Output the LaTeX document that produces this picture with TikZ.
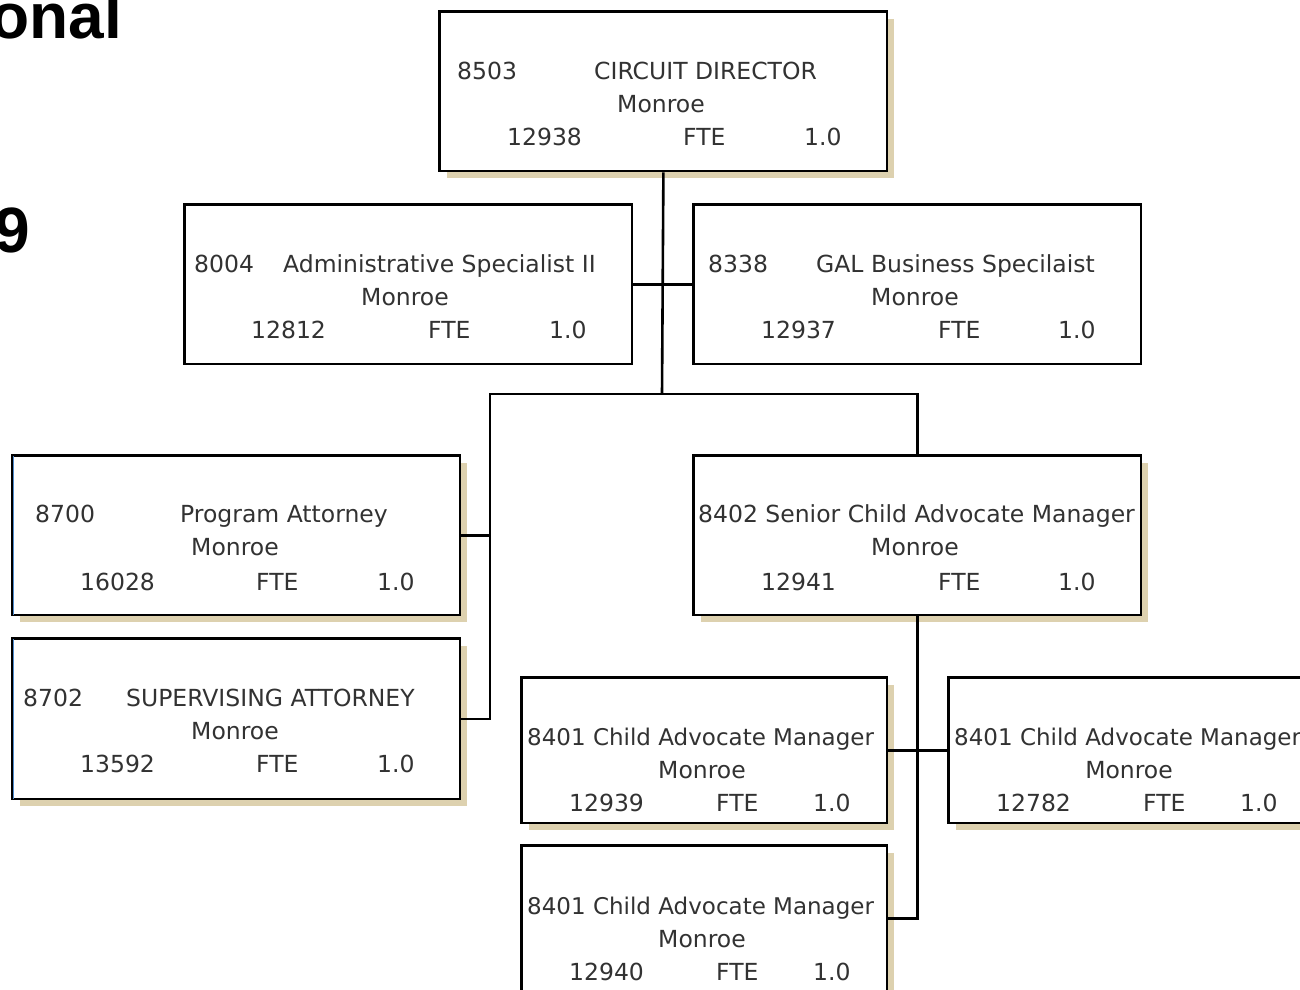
\documentclass[tikz,border=0pt]{standalone}
\usepackage{fontspec}
\setmainfont{DejaVu Sans}
\newfontfamily\titlefont{Liberation Sans}
\usetikzlibrary{shadows}
\definecolor{shadowtan}{RGB}{221,209,175}
\definecolor{edgeblue}{RGB}{80,140,205}
\definecolor{ink}{RGB}{50,50,50}

% one text field of a position card
\newcommand\fld[4]{\node[txt] (#1) at (#2,#3) {#4};}
\newcommand\fldc[4]{\node[txtc] (#1) at (#2,#3) {#4};}
\newcommand\fldn[4]{\node[txt, narrow] (#1) at (#2,#3) {#4};}

\begin{document}
\begin{tikzpicture}[x=1pt,y=-1pt,
  card/.style={rectangle, draw=black, line width=2.8pt, fill=white,
    anchor=north west, inner sep=0pt},
  big/.style={card, minimum width=447.2pt, minimum height=159.2pt},
  small/.style={card, minimum width=365.2pt, minimum height=145.2pt},
  shade/.style={drop shadow={shadow xshift=7pt, shadow yshift=-7pt,
    fill=shadowtan, opacity=1}},
  link/.style={draw=black, line width=2.6pt},
  txt/.style={anchor=base west, inner sep=0pt, text=ink,
    font=\fontsize{23.5}{28}\selectfont},
  narrow/.style={font=\fontsize{23}{28}\selectfont},
  txtc/.style={txt, anchor=base},
  title/.style={anchor=base east, inner sep=0pt, text=black,
    font=\titlefont\bfseries\fontsize{64}{70}\selectfont}]

\useasboundingbox (0,0) rectangle (1300,989);

% heading fragments
\node[title] (ttl) at (122,38) {onal};
\node[title] (yr) at (30,252) {9};

% position cards
\node[big, shade] (cd)  at (438.4,10.4) {};
\node[big]        (adm) at (183.4,203.4) {};
\node[big]        (gal) at (692.4,203.4) {};
\node[big, shade] (pa)  at (11.4,454.4) {};
\node[big, shade, minimum height=160.2pt] (sup) at (11.4,637.4) {};
\node[big, shade] (sen) at (692.4,454.4) {};
\node[small, shade] (cam1) at (520.4,676.4) {};
\node[small, shade] (cam2) at (947.4,676.4) {};
\node[small, shade] (cam3) at (520.4,844.4) {};

% thin blue inner edge on the attorney cards
\draw[edgeblue, line width=1pt] ([xshift=2pt,yshift=-1.6pt]pa.north west) -- ([xshift=2pt,yshift=1.6pt]pa.south west);
\draw[edgeblue, line width=1pt] ([xshift=2pt,yshift=-1.6pt]sup.north west) -- ([xshift=2pt,yshift=1.6pt]sup.south west);

% connectors
\coordinate (hub) at (662,394);
\coordinate (lft) at (490,394);
\draw[link] (cd.south) -- (hub);
\draw[link] (adm.east) -- (gal.west);
\draw[link] (sen.north) |- (lft) |- (sup.east);
\draw[link] (pa.east) -- (pa.east -| lft);
\draw[link] (sen.south) |- (cam3.east);
\draw[link] (cam1.east) -- (cam2.west);

% CIRCUIT DIRECTOR
\fld{cd-a}{457}{79}{8503}
\fld{cd-b}{594}{79}{CIRCUIT DIRECTOR}
\fldc{cd-c}{661}{112}{Monroe}
\fld{cd-d}{507}{145}{12938}
\fld{cd-e}{683}{145}{FTE}
\fld{cd-f}{804}{145}{1.0}

% Administrative Specialist II
\fld{adm-a}{194}{272}{8004}
\fld{adm-b}{283}{272}{Administrative Specialist II}
\fldc{adm-c}{405}{305}{Monroe}
\fld{adm-d}{251}{338}{12812}
\fld{adm-e}{428}{338}{FTE}
\fld{adm-f}{549}{338}{1.0}

% GAL Business Specilaist
\fld{gal-a}{708}{272}{8338}
\fld{gal-b}{816}{272}{GAL Business Specilaist}
\fldc{gal-c}{915}{305}{Monroe}
\fld{gal-d}{761}{338}{12937}
\fld{gal-e}{938}{338}{FTE}
\fld{gal-f}{1058}{338}{1.0}

% Program Attorney
\fld{pa-a}{35}{522}{8700}
\fld{pa-b}{180}{522}{Program Attorney}
\fldc{pa-c}{235}{555}{Monroe}
\fld{pa-d}{80}{590}{16028}
\fld{pa-e}{256}{590}{FTE}
\fld{pa-f}{377}{590}{1.0}

% SUPERVISING ATTORNEY
\fld{sup-a}{23}{706}{8702}
\fld{sup-b}{126}{706}{SUPERVISING ATTORNEY}
\fldc{sup-c}{235}{739}{Monroe}
\fld{sup-d}{80}{772}{13592}
\fld{sup-e}{256}{772}{FTE}
\fld{sup-f}{377}{772}{1.0}

% Senior Child Advocate Manager
\fld{sen-a}{698}{522}{8402 Senior Child Advocate Manager}
\fldc{sen-c}{915}{555}{Monroe}
\fld{sen-d}{761}{590}{12941}
\fld{sen-e}{938}{590}{FTE}
\fld{sen-f}{1058}{590}{1.0}

% Child Advocate Managers
\fldn{cam1-a}{527}{745}{8401 Child Advocate Manager}
\fldc{cam1-c}{702}{778}{Monroe}
\fld{cam1-d}{569}{811}{12939}
\fld{cam1-e}{716}{811}{FTE}
\fld{cam1-f}{813}{811}{1.0}

\fldn{cam2-a}{954}{745}{8401 Child Advocate Manager}
\fldc{cam2-c}{1129}{778}{Monroe}
\fld{cam2-d}{996}{811}{12782}
\fld{cam2-e}{1143}{811}{FTE}
\fld{cam2-f}{1240}{811}{1.0}

\fldn{cam3-a}{527}{914}{8401 Child Advocate Manager}
\fldc{cam3-c}{702}{947}{Monroe}
\fld{cam3-d}{569}{980}{12940}
\fld{cam3-e}{716}{980}{FTE}
\fld{cam3-f}{813}{980}{1.0}

\end{tikzpicture}
\end{document}
